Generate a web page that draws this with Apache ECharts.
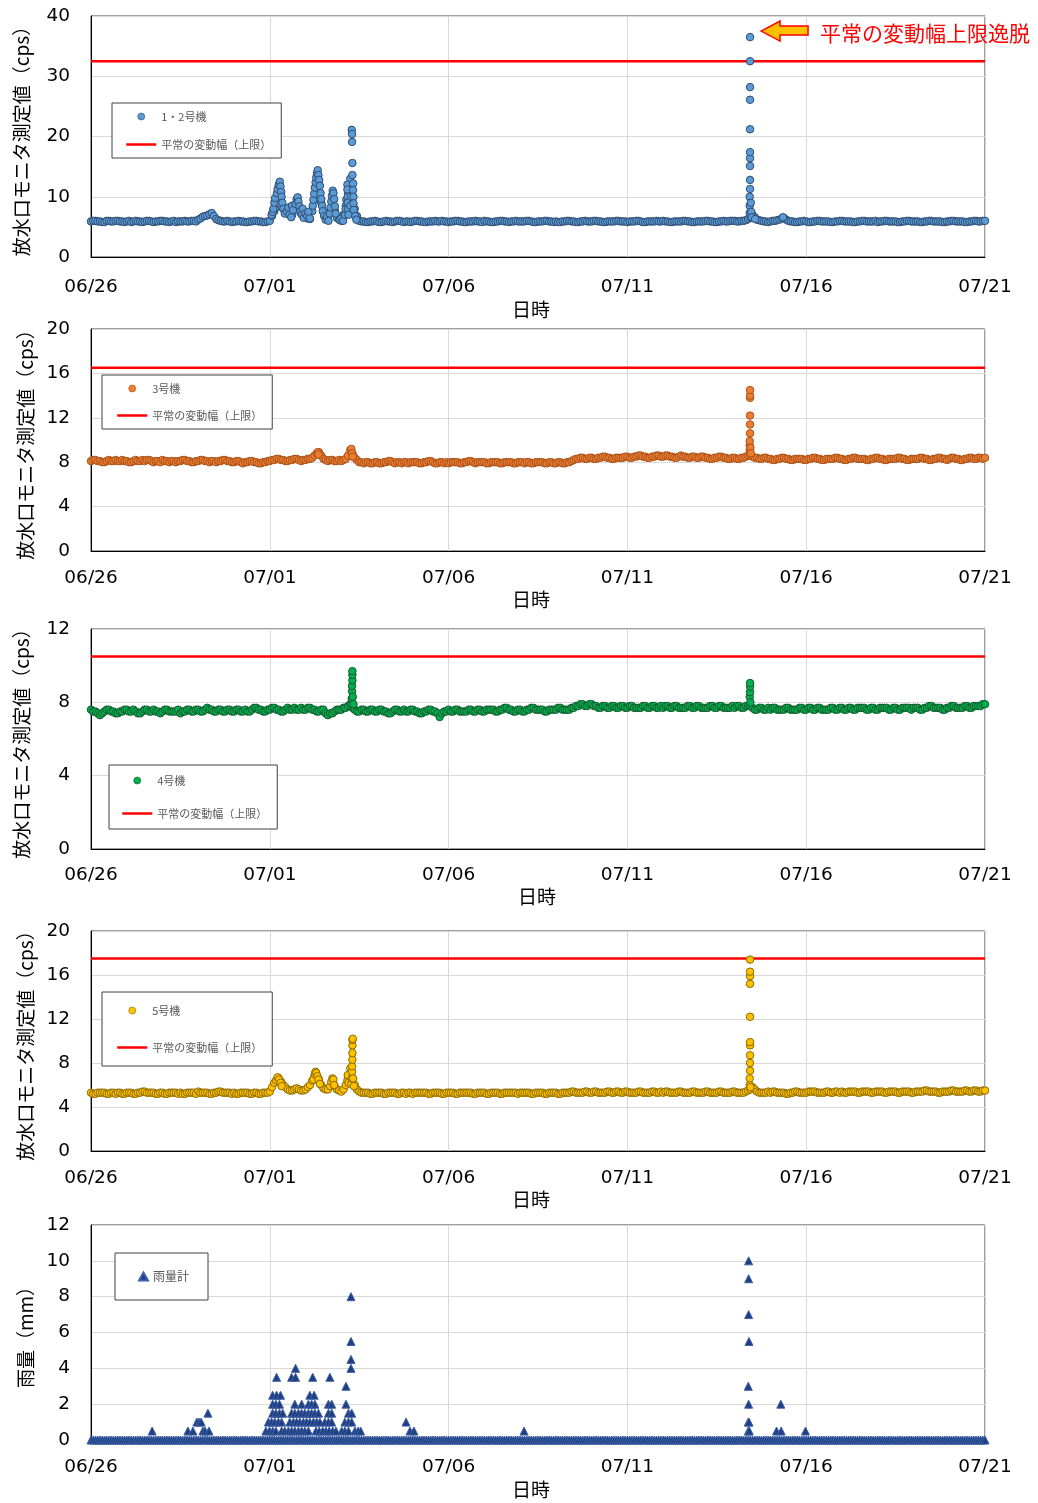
<!DOCTYPE html>
<html>
<head>
<meta charset="utf-8">
<script src="https://cdn.jsdelivr.net/npm/echarts@6/dist/echarts.min.js"></script>
<style>
  html, body { margin: 0; padding: 0; background: #fff; }
  #chart { width: 1038px; height: 1503px; }
</style>
</head>
<body>
<div id="chart"></div>
<script>
// 放水口モニタ（06/26～07/21）と雨量計
const dateLabels = ['06/26', '07/01', '07/06', '07/11', '07/16', '07/21'];
const STEP = 1 / 16; // 1.5時間ごと（日単位）

// 1・2号機 (cps) 1.5時間ごと、1行 = 1日
const unit12Base = [
  5.9,6.0,6.0,5.9,5.9,5.8,5.8,6.0,6.0,5.9,5.9,6.0,6.0,5.9,5.9,5.8,
  5.9,6.0,5.8,5.9,6.0,5.9,5.9,5.8,5.9,6.0,6.0,5.9,5.8,5.9,5.9,6.0,
  6.0,5.9,5.9,5.8,5.9,6.0,5.8,5.9,5.9,5.9,6.0,5.9,5.9,6.0,6.0,5.9,
  6.2,6.4,6.7,6.8,6.9,7.1,7.3,6.8,6.3,6.1,6.0,5.9,5.9,6.0,5.9,5.8,
  5.9,5.9,6.0,5.9,5.9,5.8,5.8,5.9,5.9,6.0,6.0,5.9,5.9,5.8,5.8,5.9,
  6.0,6.8,7.6,8.3,9.0,8.6,8.0,7.7,7.4,7.2,7.0,7.9,8.6,7.8,7.2,6.8,
  6.6,6.4,6.3,7.6,9.5,11.0,12.0,9.0,7.5,6.7,6.2,7.5,9.5,7.8,6.5,6.2,
  6.0,7.0,8.5,10.5,13.0,10.0,8.0,6.8,6.0,5.9,5.9,5.8,5.8,5.9,5.9,6.0,
  5.9,5.8,5.8,5.9,6.0,5.9,5.9,5.8,5.9,6.0,6.0,5.9,5.8,5.9,5.9,5.8,
  5.9,6.0,6.0,5.9,5.9,5.8,5.8,5.9,5.9,5.9,6.0,5.9,5.9,6.0,5.9,5.9,
  5.8,5.9,5.9,6.0,6.0,5.9,5.9,5.8,5.8,5.9,5.9,5.9,6.0,5.9,5.9,5.8,
  6.0,5.9,5.9,5.8,5.8,5.9,5.9,6.0,6.0,5.9,5.9,5.8,5.9,5.9,6.0,5.9,
  5.9,5.9,5.9,6.0,6.0,5.9,5.8,5.8,5.9,5.9,5.9,6.0,6.0,5.9,5.9,5.8,
  5.9,5.8,5.8,5.9,5.9,6.0,6.0,5.9,5.9,5.8,5.8,5.9,5.9,6.0,5.9,5.9,
  5.9,6.0,6.0,5.9,5.9,5.8,5.8,5.9,5.9,5.9,5.9,6.0,6.0,5.9,5.9,5.9,
  5.8,5.9,5.9,5.9,6.0,6.0,5.9,5.8,5.8,5.9,5.9,5.9,5.9,6.0,5.9,5.9,
  6.0,5.9,5.9,5.8,5.8,5.9,5.9,5.9,5.9,6.0,6.0,5.9,5.9,5.8,5.8,5.9,
  5.9,5.9,5.9,6.0,6.0,5.9,5.9,5.8,5.8,5.9,5.9,6.0,5.9,5.9,6.0,6.0,
  6.0,5.9,5.9,6.0,6.0,6.1,6.3,6.5,7.0,6.6,6.2,6.1,6.0,5.9,5.9,5.8,
  5.9,6.0,6.0,6.1,6.2,6.4,6.5,6.2,6.0,5.9,5.9,5.8,5.8,5.9,5.9,6.0,
  5.9,5.8,5.8,5.9,5.9,6.0,6.0,5.9,5.9,5.9,5.9,5.8,5.8,5.9,5.9,6.0,
  6.0,5.9,5.9,5.9,5.9,5.8,5.8,5.9,5.9,6.0,6.0,5.9,5.9,5.9,5.9,6.0,
  5.8,5.9,5.9,6.0,6.0,5.9,5.9,5.9,5.9,5.8,5.8,5.9,5.9,6.0,6.0,5.9,
  5.9,5.9,5.9,5.8,5.8,5.9,5.9,6.0,6.0,5.9,5.9,5.9,5.9,5.8,5.8,5.9,
  5.9,6.0,6.0,5.9,5.9,5.9,5.9,5.8,5.8,5.9,5.9,6.0,6.0,5.9,5.9,6.0,
  6.0
];
// 短時間の変動 [日, cps]
const unit12Spikes = [
  [5.05,7.0],[5.08,7.5],[5.10,8.0],[5.13,9.0],[5.15,9.8],[5.20,10.6],[5.22,11.3],[5.25,12.0],
  [5.28,12.5],[5.30,11.7],[5.32,10.8],[5.33,10.0],[5.35,9.0],[5.38,8.0],[5.42,7.2],
  [5.48,7.6],[5.52,8.2],[5.55,7.0],[5.60,6.6],[5.62,8.5],[5.65,7.8],
  [5.72,8.8],[5.75,9.6],[5.78,9.9],[5.80,9.2],[5.83,8.4],[5.86,7.6],[5.90,7.0],[5.92,8.0],[5.95,6.5],
  [6.00,7.2],[6.05,6.8],[6.08,7.5],[6.12,6.4],
  [6.20,8.5],[6.22,9.5],[6.24,10.5],[6.26,11.5],[6.28,12.4],[6.30,13.2],[6.32,13.9],[6.34,14.4],
  [6.36,13.6],[6.38,12.8],[6.40,11.8],[6.42,10.6],[6.44,9.6],[6.46,8.5],[6.48,7.6],[6.52,6.8],
  [6.56,6.2],[6.60,6.6],[6.64,6.0],
  [6.68,7.2],[6.70,8.2],[6.72,9.2],[6.74,10.2],[6.76,11.0],[6.78,10.6],[6.80,9.6],[6.82,8.4],[6.84,7.2],
  [6.95,6.2],[7.00,6.4],[7.05,6.0],[7.10,7.0],[7.12,8.0],[7.14,9.5],
  [7.17,12.0],[7.17,11.2],[7.18,10.0],[7.18,9.0],[7.19,8.0],[7.20,7.0],[7.25,8.5],[7.27,10.0],
  [7.29,21.1],[7.30,20.4],[7.30,19.1],[7.31,15.6],[7.31,13.6],[7.33,12.2],[7.33,11.1],
  [7.34,10.0],[7.34,8.9],[7.35,7.8],[7.39,6.8],[7.42,6.2],
  [18.42,7.3],[18.42,8.5],[18.42,10.0],[18.43,11.3],[18.43,12.8],[18.43,15.1],[18.43,16.4],
  [18.43,17.4],[18.43,21.2],[18.43,26.1],[18.43,28.2],[18.43,32.5],[18.43,36.5],
  [18.45,9.0],[18.46,7.5],[18.48,6.6],[18.57,6.3],[19.35,6.6]
];

// 3号機 (cps)
const unit3Base = [
  8.1,8.2,8.2,8.1,8.1,8.0,8.0,8.1,8.2,8.1,8.1,8.2,8.1,8.1,8.2,8.1,
  8.1,8.0,8.0,8.1,8.2,8.1,8.1,8.2,8.1,8.2,8.2,8.1,8.0,8.1,8.1,8.0,
  8.2,8.1,8.1,8.0,8.1,8.1,8.0,8.1,8.1,8.2,8.2,8.1,8.1,8.0,8.0,8.1,
  8.1,8.2,8.2,8.1,8.1,8.0,8.1,8.1,8.0,8.1,8.1,8.2,8.2,8.1,8.1,8.0,
  8.0,8.1,8.1,8.0,7.9,8.0,8.0,8.1,8.1,8.0,8.0,7.9,7.9,8.0,8.0,8.1,
  8.1,8.2,8.2,8.3,8.3,8.2,8.2,8.1,8.1,8.2,8.2,8.3,8.3,8.2,8.1,8.2,
  8.2,8.3,8.3,8.4,8.6,8.8,8.9,8.6,8.3,8.2,8.1,8.2,8.2,8.1,8.1,8.2,
  8.1,8.2,8.3,8.6,9.1,8.8,8.4,8.2,8.0,8.0,7.9,8.0,8.0,7.9,7.9,8.0,
  8.0,7.9,7.9,8.0,8.0,8.1,8.1,8.0,7.9,8.0,8.0,7.9,8.0,8.0,7.9,8.0,
  8.0,8.0,8.0,7.9,7.9,8.0,8.0,8.1,8.1,8.0,7.9,7.9,8.0,8.0,7.9,8.0,
  7.9,8.0,8.0,8.0,8.0,7.9,7.9,8.0,8.0,8.1,8.1,8.0,7.9,8.0,8.0,8.0,
  8.0,7.9,7.9,8.0,8.0,8.0,8.0,7.9,7.9,8.0,8.0,8.0,8.0,7.9,7.9,8.0,
  8.0,8.0,7.9,8.0,8.0,7.9,7.9,8.0,8.0,8.0,8.0,7.9,7.9,8.0,8.0,7.9,
  7.9,8.0,8.0,7.9,7.9,8.0,8.0,8.1,8.2,8.3,8.3,8.4,8.4,8.3,8.3,8.4,
  8.4,8.3,8.3,8.4,8.4,8.5,8.5,8.4,8.4,8.3,8.3,8.4,8.4,8.4,8.4,8.5,
  8.5,8.4,8.4,8.5,8.5,8.6,8.6,8.5,8.5,8.4,8.4,8.5,8.5,8.6,8.6,8.5,
  8.5,8.6,8.6,8.5,8.5,8.4,8.4,8.5,8.6,8.5,8.5,8.4,8.4,8.5,8.5,8.4,
  8.4,8.5,8.5,8.4,8.4,8.3,8.3,8.4,8.4,8.5,8.5,8.4,8.4,8.3,8.3,8.4,
  8.4,8.3,8.3,8.4,8.4,8.5,8.6,8.6,8.5,8.4,8.4,8.3,8.3,8.4,8.4,8.3,
  8.3,8.2,8.2,8.3,8.3,8.4,8.4,8.3,8.3,8.2,8.2,8.3,8.3,8.3,8.3,8.2,
  8.2,8.3,8.3,8.4,8.4,8.3,8.3,8.2,8.2,8.3,8.3,8.3,8.3,8.4,8.4,8.3,
  8.3,8.2,8.2,8.3,8.3,8.4,8.4,8.3,8.3,8.3,8.3,8.2,8.2,8.3,8.3,8.4,
  8.4,8.3,8.3,8.2,8.2,8.3,8.3,8.3,8.3,8.4,8.4,8.3,8.3,8.2,8.2,8.3,
  8.3,8.3,8.3,8.4,8.4,8.3,8.3,8.2,8.2,8.3,8.3,8.4,8.4,8.3,8.3,8.2,
  8.3,8.4,8.4,8.3,8.3,8.2,8.2,8.3,8.3,8.4,8.4,8.3,8.3,8.4,8.4,8.3,
  8.4
];
const unit3Spikes = [
  [6.34,8.9],[6.36,8.7],[7.28,9.2],[7.30,8.8],[7.32,8.5],
  [18.42,9.1],[18.42,9.5],[18.42,9.9],[18.43,10.6],[18.43,11.4],[18.43,12.2],
  [18.43,13.8],[18.43,14.0],[18.43,14.5],[18.44,9.3],[18.45,8.8]
];

// 4号機 (cps)
const unit4Base = [
  7.6,7.5,7.5,7.4,7.3,7.4,7.5,7.6,7.6,7.5,7.5,7.4,7.4,7.5,7.5,7.6,
  7.6,7.5,7.5,7.6,7.5,7.4,7.4,7.5,7.6,7.6,7.5,7.5,7.6,7.5,7.5,7.4,
  7.5,7.6,7.6,7.5,7.5,7.5,7.5,7.6,7.4,7.5,7.5,7.6,7.6,7.5,7.5,7.6,
  7.6,7.5,7.5,7.6,7.7,7.6,7.6,7.5,7.5,7.6,7.6,7.5,7.5,7.6,7.6,7.5,
  7.5,7.6,7.6,7.5,7.5,7.6,7.5,7.5,7.6,7.7,7.7,7.6,7.6,7.5,7.5,7.6,
  7.6,7.7,7.7,7.6,7.6,7.5,7.5,7.6,7.7,7.6,7.6,7.7,7.6,7.6,7.7,7.6,
  7.6,7.7,7.7,7.6,7.6,7.5,7.5,7.6,7.6,7.4,7.3,7.4,7.4,7.5,7.6,7.6,
  7.6,7.7,7.7,7.8,7.9,7.7,7.6,7.5,7.5,7.6,7.6,7.5,7.5,7.6,7.6,7.5,
  7.5,7.6,7.6,7.5,7.5,7.4,7.4,7.5,7.6,7.6,7.5,7.5,7.6,7.5,7.5,7.6,
  7.6,7.5,7.5,7.4,7.4,7.5,7.5,7.6,7.6,7.5,7.5,7.4,7.2,7.4,7.5,7.5,
  7.6,7.5,7.5,7.6,7.6,7.5,7.5,7.5,7.5,7.6,7.6,7.5,7.5,7.6,7.6,7.5,
  7.5,7.6,7.6,7.6,7.6,7.5,7.5,7.6,7.6,7.7,7.7,7.6,7.6,7.5,7.5,7.6,
  7.6,7.5,7.5,7.6,7.6,7.7,7.7,7.6,7.6,7.6,7.6,7.5,7.5,7.6,7.6,7.6,
  7.6,7.7,7.7,7.6,7.6,7.6,7.6,7.7,7.7,7.8,7.8,7.9,7.9,7.8,7.8,7.9,
  7.9,7.8,7.8,7.7,7.7,7.8,7.8,7.7,7.7,7.8,7.8,7.7,7.7,7.8,7.8,7.7,
  7.7,7.8,7.8,7.7,7.7,7.7,7.7,7.8,7.8,7.7,7.7,7.8,7.8,7.7,7.7,7.8,
  7.7,7.8,7.8,7.7,7.7,7.8,7.8,7.7,7.7,7.7,7.7,7.8,7.8,7.7,7.7,7.8,
  7.8,7.7,7.7,7.7,7.7,7.8,7.8,7.7,7.7,7.8,7.8,7.7,7.7,7.7,7.7,7.8,
  7.7,7.8,7.8,7.7,7.7,7.8,7.8,7.8,7.7,7.6,7.6,7.7,7.7,7.6,7.6,7.7,
  7.6,7.7,7.7,7.6,7.6,7.6,7.6,7.7,7.7,7.6,7.6,7.6,7.6,7.7,7.7,7.6,
  7.6,7.7,7.7,7.6,7.6,7.7,7.7,7.6,7.6,7.6,7.6,7.7,7.7,7.6,7.6,7.7,
  7.7,7.6,7.6,7.7,7.7,7.6,7.6,7.7,7.7,7.7,7.7,7.6,7.6,7.7,7.7,7.6,
  7.6,7.7,7.7,7.7,7.7,7.6,7.6,7.7,7.7,7.6,7.6,7.7,7.7,7.7,7.7,7.6,
  7.7,7.7,7.7,7.6,7.6,7.7,7.7,7.8,7.8,7.7,7.7,7.7,7.7,7.6,7.6,7.7,
  7.7,7.8,7.8,7.7,7.7,7.7,7.7,7.8,7.8,7.7,7.7,7.8,7.8,7.8,7.8,7.9,
  7.9
];
const unit4Spikes = [
  [7.28,7.9],[7.29,8.2],[7.30,8.6],[7.30,8.9],[7.31,9.2],[7.31,9.5],[7.31,9.7],[7.32,8.3],[7.34,7.9],
  [18.42,8.3],[18.43,8.55],[18.43,8.85],[18.43,9.05],[18.44,8.0]
];

// 5号機 (cps)
const unit5Base = [
  5.3,5.2,5.2,5.3,5.3,5.3,5.3,5.2,5.2,5.3,5.3,5.2,5.3,5.3,5.2,5.2,
  5.3,5.3,5.3,5.2,5.2,5.3,5.3,5.4,5.4,5.3,5.3,5.3,5.3,5.2,5.2,5.3,
  5.3,5.2,5.2,5.3,5.3,5.3,5.3,5.2,5.3,5.2,5.2,5.3,5.3,5.3,5.3,5.2,
  5.4,5.3,5.3,5.3,5.3,5.2,5.2,5.3,5.3,5.4,5.4,5.3,5.3,5.3,5.3,5.2,
  5.3,5.2,5.2,5.3,5.3,5.3,5.3,5.2,5.2,5.3,5.3,5.2,5.2,5.3,5.3,5.3,
  5.4,5.8,6.2,6.5,6.6,6.3,6.0,5.8,5.6,5.5,5.5,5.6,5.7,5.6,5.5,5.5,
  5.6,5.8,6.0,6.4,6.8,6.7,6.5,6.0,5.7,5.6,5.6,5.9,6.3,5.9,5.6,5.5,
  5.4,5.6,6.0,6.6,7.5,6.6,6.0,5.6,5.4,5.3,5.3,5.3,5.3,5.2,5.2,5.3,
  5.3,5.3,5.3,5.2,5.2,5.3,5.3,5.3,5.3,5.2,5.2,5.3,5.3,5.2,5.3,5.3,
  5.2,5.3,5.3,5.3,5.3,5.3,5.3,5.2,5.2,5.3,5.3,5.3,5.3,5.2,5.2,5.3,
  5.3,5.3,5.3,5.2,5.2,5.3,5.3,5.3,5.3,5.3,5.3,5.2,5.2,5.3,5.3,5.3,
  5.3,5.2,5.2,5.3,5.3,5.3,5.3,5.2,5.2,5.3,5.3,5.3,5.3,5.3,5.3,5.2,
  5.3,5.3,5.3,5.3,5.3,5.2,5.2,5.3,5.3,5.3,5.3,5.2,5.2,5.3,5.3,5.3,
  5.3,5.2,5.2,5.3,5.3,5.3,5.3,5.4,5.4,5.3,5.3,5.3,5.3,5.4,5.4,5.3,
  5.3,5.4,5.4,5.3,5.3,5.3,5.3,5.4,5.4,5.3,5.3,5.4,5.4,5.3,5.3,5.4,
  5.4,5.3,5.3,5.3,5.3,5.4,5.4,5.3,5.3,5.3,5.3,5.4,5.4,5.3,5.3,5.4,
  5.3,5.4,5.4,5.3,5.3,5.3,5.3,5.4,5.4,5.3,5.3,5.3,5.3,5.4,5.4,5.3,
  5.3,5.3,5.3,5.4,5.4,5.3,5.3,5.3,5.3,5.4,5.4,5.3,5.3,5.3,5.3,5.4,
  5.4,5.3,5.3,5.3,5.3,5.4,5.5,5.6,5.8,5.6,5.4,5.3,5.3,5.3,5.3,5.4,
  5.3,5.4,5.4,5.3,5.3,5.3,5.3,5.2,5.2,5.3,5.3,5.4,5.4,5.3,5.3,5.3,
  5.3,5.4,5.4,5.4,5.4,5.3,5.3,5.3,5.3,5.4,5.4,5.3,5.3,5.4,5.4,5.3,
  5.4,5.3,5.3,5.4,5.4,5.4,5.4,5.3,5.3,5.4,5.4,5.4,5.4,5.3,5.3,5.4,
  5.4,5.4,5.4,5.3,5.3,5.4,5.4,5.4,5.4,5.3,5.3,5.4,5.4,5.4,5.4,5.3,
  5.3,5.4,5.4,5.4,5.4,5.5,5.5,5.4,5.4,5.4,5.4,5.3,5.3,5.4,5.4,5.4,
  5.4,5.5,5.5,5.4,5.4,5.4,5.4,5.5,5.5,5.4,5.4,5.5,5.5,5.4,5.4,5.5,
  5.5
];
const unit5Spikes = [
  [5.18,6.4],[5.22,6.7],[5.26,6.5],[5.30,6.2],[5.33,5.9],
  [6.22,6.5],[6.26,7.0],[6.28,7.2],[6.30,7.1],[6.33,6.8],[6.36,6.5],[6.40,6.1],
  [6.72,6.3],[6.75,6.6],[6.78,6.5],[6.80,6.0],
  [7.17,6.4],[7.18,6.9],[7.20,6.2],[7.28,6.1],[7.29,6.6],[7.30,7.2],[7.30,7.7],[7.31,8.3],
  [7.31,8.9],[7.31,9.6],[7.31,10.1],[7.32,10.2],[7.33,6.6],[7.35,5.9],
  [18.42,6.0],[18.42,6.6],[18.43,7.3],[18.43,8.0],[18.43,8.7],[18.43,9.6],[18.43,9.9],
  [18.43,12.2],[18.43,15.2],[18.43,15.9],[18.43,16.3],[18.43,17.4],[18.44,5.8]
];

// 雨量計 (mm) 1.5時間ごとの無降雨値、1行 = 1日
const rainBase = [
  0,0,0,0,0,0,0,0,0,0,0,0,0,0,0,0,
  0,0,0,0,0,0,0,0,0,0,0,0,0,0,0,0,
  0,0,0,0,0,0,0,0,0,0,0,0,0,0,0,0,
  0,0,0,0,0,0,0,0,0,0,0,0,0,0,0,0,
  0,0,0,0,0,0,0,0,0,0,0,0,0,0,0,0,
  0,0,0,0,0,0,0,0,0,0,0,0,0,0,0,0,
  0,0,0,0,0,0,0,0,0,0,0,0,0,0,0,0,
  0,0,0,0,0,0,0,0,0,0,0,0,0,0,0,0,
  0,0,0,0,0,0,0,0,0,0,0,0,0,0,0,0,
  0,0,0,0,0,0,0,0,0,0,0,0,0,0,0,0,
  0,0,0,0,0,0,0,0,0,0,0,0,0,0,0,0,
  0,0,0,0,0,0,0,0,0,0,0,0,0,0,0,0,
  0,0,0,0,0,0,0,0,0,0,0,0,0,0,0,0,
  0,0,0,0,0,0,0,0,0,0,0,0,0,0,0,0,
  0,0,0,0,0,0,0,0,0,0,0,0,0,0,0,0,
  0,0,0,0,0,0,0,0,0,0,0,0,0,0,0,0,
  0,0,0,0,0,0,0,0,0,0,0,0,0,0,0,0,
  0,0,0,0,0,0,0,0,0,0,0,0,0,0,0,0,
  0,0,0,0,0,0,0,0,0,0,0,0,0,0,0,0,
  0,0,0,0,0,0,0,0,0,0,0,0,0,0,0,0,
  0,0,0,0,0,0,0,0,0,0,0,0,0,0,0,0,
  0,0,0,0,0,0,0,0,0,0,0,0,0,0,0,0,
  0,0,0,0,0,0,0,0,0,0,0,0,0,0,0,0,
  0,0,0,0,0,0,0,0,0,0,0,0,0,0,0,0,
  0,0,0,0,0,0,0,0,0,0,0,0,0,0,0,0,
  0
];
// 降雨 [日, mm]
const rainPoints = [
  [1.71,0.5],[2.71,0.5],[2.85,0.5],[2.96,1.0],[3.02,1.0],[3.08,1.0],[3.13,0.5],[3.19,0.5],[3.27,1.5],[3.30,0.5],
  [4.89,0.5],[4.99,0.5],[5.08,0.5],[5.17,0.5],[5.33,0.5],[5.42,0.5],[5.52,0.5],[5.61,0.5],[5.70,0.5],
  [5.80,0.5],[5.89,0.5],[5.98,0.5],[6.08,0.5],[6.29,0.5],[6.38,0.5],[6.48,0.5],[6.57,0.5],[6.66,0.5],
  [6.76,0.5],[6.85,0.5],[7.01,0.5],[7.10,0.5],[7.20,0.5],[7.38,0.5],[7.47,0.5],[7.54,0.5],
  [4.96,1.0],[5.05,1.0],[5.14,1.0],[5.24,1.0],[5.33,1.0],[5.56,1.0],[5.66,1.0],[5.75,1.0],[5.84,1.0],
  [5.94,1.0],[6.03,1.0],[6.12,1.0],[6.22,1.0],[6.31,1.0],[6.40,1.0],[6.54,1.0],[6.64,1.0],[6.73,1.0],
  [7.10,1.0],[7.20,1.0],[7.29,1.0],
  [5.08,1.5],[5.17,1.5],[5.27,1.5],[5.36,1.5],[5.61,1.5],[5.70,1.5],[5.80,1.5],[5.89,1.5],[5.98,1.5],
  [6.08,1.5],[6.17,1.5],[6.26,1.5],[6.36,1.5],[6.64,1.5],[6.73,1.5],[7.20,1.5],[7.29,1.5],
  [5.08,2.0],[5.17,2.0],[5.27,2.0],[5.70,2.0],[5.89,2.0],[6.08,2.0],[6.17,2.0],[6.26,2.0],[6.64,2.0],
  [6.73,2.0],[7.13,2.0],
  [5.08,2.5],[5.19,2.5],[5.30,2.5],[6.12,2.5],[6.24,2.5],
  [7.13,3.0],
  [5.19,3.5],[5.61,3.5],[5.72,3.5],[6.20,3.5],[6.68,3.5],
  [5.72,4.0],[7.27,4.0],[7.27,4.5],[7.27,5.5],[7.27,8.0],
  [8.81,1.0],[8.92,0.5],[9.03,0.5],[12.11,0.5],
  [18.39,10.0],[18.39,9.0],[18.39,7.0],[18.40,5.5],[18.38,3.0],[18.39,2.0],[18.38,1.0],[18.40,1.0],
  [18.38,0.5],[18.41,0.5],[19.17,0.5],[19.29,2.0],[19.30,0.5],[19.98,0.5]
];

const limits = [32.5, 16.5, 10.5, 17.5];
const yMax = [40, 20, 12, 20, 12];
const yStep = [10, 4, 4, 4, 2];
const seriesNames = ['1・2号機', '3号機', '4号機', '5号機', '雨量計'];
const LIMIT_NAME = '平常の変動幅（上限）';

const CJK = "'Noto Sans CJK JP', 'Noto Sans CJK SC', sans-serif";
const LATIN = "'DejaVu Sans', Verdana, sans-serif";

const panels = [
  { top: 16, height: 241, labelGap: 21, nameGap: 43, yNameGap: 60, nameShift: 14, yName: '放水口モニタ測定値（cps）' },
  { top: 329, height: 222, labelGap: 18, nameGap: 39, yNameGap: 50, nameShift: 14, yName: '放水口モニタ測定値（cps）' },
  { top: 629, height: 220, labelGap: 17, nameGap: 38, yNameGap: 60, nameShift: 2, yName: '放水口モニタ測定値（cps）' },
  { top: 931, height: 220, labelGap: 18, nameGap: 39, yNameGap: 50, nameShift: 14, yName: '放水口モニタ測定値（cps）' },
  { top: 1225, height: 215, labelGap: 18, nameGap: 40, yNameGap: 50, nameShift: 14, yName: '雨量（mm）' }
];

const markerStyles = [
  { color: '#5b9bd5', borderColor: '#2f4d73' },
  { color: '#ed7d31', borderColor: '#a9521a' },
  { color: '#00b050', borderColor: '#17592c' },
  { color: '#ffc000', borderColor: '#8c6b00' },
  { color: '#1f3f80', borderColor: '#3d5fa6' }
];

const legendBoxes = [
  { left: 112, top: 103, padding: [7, 10, 7, 13], itemGap: 15 },
  { left: 102, top: 375, padding: [7, 10, 7, 14], itemGap: 14 },
  { left: 109, top: 765, padding: [9, 10, 9, 12], itemGap: 20 },
  { left: 102, top: 992, padding: [12, 10, 12, 14], itemGap: 24 },
  { left: 115, top: 1253, padding: [17, 19, 17, 23], itemGap: 10 }
];

const withTime = base => base.map((v, i) => [i * STEP, v]);
const seriesData = [
  withTime(unit12Base).concat(unit12Spikes),
  withTime(unit3Base).concat(unit3Spikes),
  withTime(unit4Base).concat(unit4Spikes),
  withTime(unit5Base).concat(unit5Spikes),
  withTime(rainBase).concat(rainPoints)
];

const chart = echarts.init(document.getElementById('chart'), null, { renderer: 'canvas' });

const grids = panels.map(p => ({
  left: 91, width: 894, top: p.top, height: p.height,
  show: true, borderColor: '#404040', borderWidth: 1, backgroundColor: 'transparent',
  containLabel: false, outerBoundsMode: 'none'
}));

const xAxes = panels.map((p, i) => ({
  type: 'value', gridIndex: i, min: 0, max: 25, interval: 5,
  name: '日時', nameLocation: 'middle', nameGap: p.nameGap,
  nameTextStyle: { fontFamily: CJK, fontSize: 19, color: '#000', padding: [0, p.nameShift, 0, 0] },
  axisLine: { show: true, lineStyle: { color: '#000', width: 1 } },
  axisTick: { show: false },
  axisLabel: {
    margin: p.labelGap, fontFamily: LATIN, fontSize: 18.5, color: '#000',
    formatter: v => dateLabels[Math.round(v / 5)]
  },
  splitLine: { show: true, lineStyle: { color: '#d9d9d9', width: 1 } }
}));

const yAxes = panels.map((p, i) => ({
  type: 'value', gridIndex: i, min: 0, max: yMax[i], interval: yStep[i],
  name: p.yName, nameLocation: 'middle', nameGap: p.yNameGap, nameRotate: 90,
  nameTextStyle: { fontFamily: CJK, fontSize: 19, color: '#000' },
  axisLine: { show: true, lineStyle: { color: '#000', width: 1 } },
  axisTick: { show: false },
  axisLabel: { margin: 21, fontFamily: LATIN, fontSize: 18.5, color: '#000' },
  splitLine: { show: true, lineStyle: { color: '#d9d9d9', width: 1 } }
}));

const series = [];
seriesData.forEach((data, i) => {
  if (i < limits.length) {
    series.push({
      type: 'line', name: LIMIT_NAME, xAxisIndex: i, yAxisIndex: i,
      data: [[0, limits[i]], [25, limits[i]]],
      symbol: 'none', z: 1, silent: true,
      lineStyle: { color: '#ff0000', width: 2.5 },
      itemStyle: { color: '#ff0000' }
    });
  }
  series.push({
    type: 'scatter', name: seriesNames[i], xAxisIndex: i, yAxisIndex: i,
    data: data, z: 2,
    symbol: i === 4 ? 'triangle' : 'circle',
    symbolSize: i === 4 ? 8 : 7.5,
    itemStyle: Object.assign({ borderWidth: 1, opacity: 1 }, markerStyles[i])
  });
});

const legends = legendBoxes.map((b, i) => ({
  orient: 'vertical', left: b.left, top: b.top, padding: b.padding, itemGap: b.itemGap,
  backgroundColor: '#fff', borderColor: '#404040', borderWidth: 1, borderRadius: 0,
  itemWidth: i === 4 ? 9 : 30, itemHeight: i === 4 ? 8 : 7, selectedMode: false,
  textStyle: { fontFamily: CJK, fontSize: i === 4 ? 12 : 11, color: '#595959', lineHeight: 13 },
  data: i === 4
    ? [{ name: seriesNames[i], icon: 'triangle' }]
    : [
        { name: seriesNames[i], icon: 'circle', itemStyle: { borderWidth: 0.6 } },
        { name: LIMIT_NAME, itemStyle: { opacity: 0 }, lineStyle: { color: '#ff0000', width: 2.5 } }
      ]
}));

chart.setOption({
  animation: false,
  backgroundColor: '#fff',
  grid: grids,
  xAxis: xAxes,
  yAxis: yAxes,
  legend: legends,
  series: series
});

// 上限逸脱の注記（1・2号機の最大値の横）
const peak = unit12Spikes.reduce((a, b) => (b[1] > a[1] ? b : a));
const pt = chart.convertToPixel({ gridIndex: 0 }, peak);
const tx = pt[0] + 11, ty = pt[1] - 6;
chart.setOption({
  graphic: [
    {
      type: 'polygon', z: 10,
      shape: { points: [[tx, ty], [tx + 19, ty - 10], [tx + 19, ty - 5], [tx + 47, ty - 5],
                        [tx + 47, ty + 4], [tx + 19, ty + 4], [tx + 19, ty + 10]] },
      style: { fill: '#ffc000', stroke: '#ff0000', lineWidth: 1.5 }
    },
    {
      type: 'text', z: 10, x: tx + 59, y: ty + 2,
      style: { text: '平常の変動幅上限逸脱', fill: '#ff0000', font: "21px 'Noto Sans CJK JP'", verticalAlign: 'middle' }
    }
  ]
});
</script>
</body>
</html>
